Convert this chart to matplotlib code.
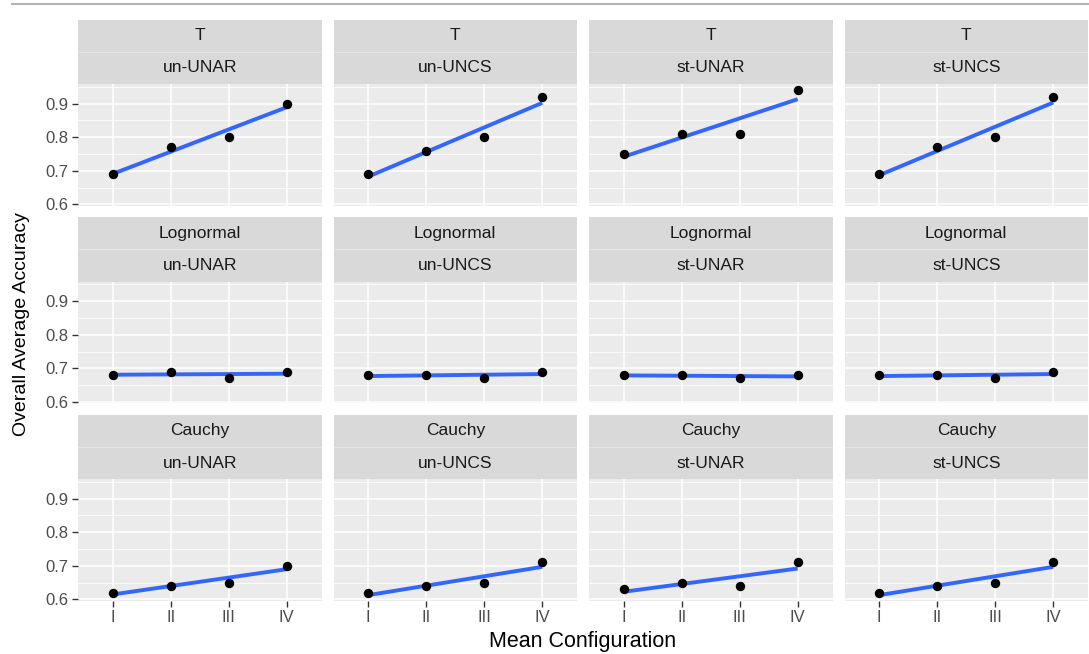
import numpy as np
import matplotlib
matplotlib.use("Agg")
import matplotlib.pyplot as plt
from matplotlib.ticker import MultipleLocator

plt.rcParams['font.family'] = ['Liberation Sans', 'DejaVu Sans']

# data
configs = ["I", "II", "III", "IV"]
distributions = ["T", "Lognormal", "Cauchy"]
methods = ["un-UNAR", "un-UNCS", "st-UNAR", "st-UNCS"]

t_un_unar = [0.69, 0.77, 0.80, 0.90]
t_un_uncs = [0.69, 0.76, 0.80, 0.92]
t_st_unar = [0.75, 0.81, 0.81, 0.94]
t_st_uncs = [0.69, 0.77, 0.80, 0.92]

logn_un_unar = [0.68, 0.69, 0.67, 0.69]
logn_un_uncs = [0.68, 0.68, 0.67, 0.69]
logn_st_unar = [0.68, 0.68, 0.67, 0.68]
logn_st_uncs = [0.68, 0.68, 0.67, 0.69]

cauchy_un_unar = [0.62, 0.64, 0.65, 0.70]
cauchy_un_uncs = [0.62, 0.64, 0.65, 0.71]
cauchy_st_unar = [0.63, 0.65, 0.64, 0.71]
cauchy_st_uncs = [0.62, 0.64, 0.65, 0.71]

values = [
    [t_un_unar, t_un_uncs, t_st_unar, t_st_uncs],
    [logn_un_unar, logn_un_uncs, logn_st_unar, logn_st_uncs],
    [cauchy_un_unar, cauchy_un_uncs, cauchy_st_unar, cauchy_st_uncs],
]

W, H = 1089, 654
fig = plt.figure(figsize=(W / 100, H / 100), dpi=100)

# thin grey rule along the top
fig.add_artist(plt.Line2D([12 / W, 1], [1 - 4 / H, 1 - 4 / H],
                          color="#b3b3b3", lw=1.5))

left0, pw, gap = 78, 243.5, 12
strip_h, plot_h, row_gap = 64, 121.5, 12
top0 = 20

x = np.arange(1, 5)

for r, dist in enumerate(distributions):
    st_top = top0 + r * (strip_h + plot_h + row_gap)
    p_top = st_top + strip_h
    for c, meth in enumerate(methods):
        lx = left0 + c * (pw + gap)

        # strip
        sax = fig.add_axes([lx / W, 1 - p_top / H, pw / W, strip_h / H])
        sax.set_facecolor("#d9d9d9")
        sax.set_xlim(0, 1)
        sax.set_ylim(0, 1)
        sax.axhline(0.5, color="#e4e4e4", lw=0.8)
        sax.text(0.5, 0.75, dist, ha="center", va="center",
                 fontsize=12.5, color="#1a1a1a")
        sax.text(0.5, 0.25, meth, ha="center", va="center",
                 fontsize=12.5, color="#1a1a1a")
        sax.set_xticks([])
        sax.set_yticks([])
        for s in sax.spines.values():
            s.set_visible(False)

        # panel
        ax = fig.add_axes([lx / W, 1 - (p_top + plot_h) / H, pw / W, plot_h / H])
        ax.set_facecolor("#ebebeb")
        ax.set_xlim(0.4, 4.6)
        ax.set_ylim(0.597, 0.958)
        ax.yaxis.set_major_locator(MultipleLocator(0.1))
        ax.yaxis.set_minor_locator(MultipleLocator(0.05))
        ax.set_xticks(x)
        ax.grid(True, which="major", color="white", lw=1.1)
        ax.grid(True, which="minor", axis="y", color="white", lw=0.55)
        ax.set_axisbelow(True)
        for s in ax.spines.values():
            s.set_visible(False)
        ax.tick_params(which="minor", length=0)
        ax.tick_params(which="major", length=4, width=1, color="#333333",
                       labelsize=12, labelcolor="#4d4d4d", pad=3)

        y = values[r][c]
        slope, icpt = np.polyfit(x, y, 1)
        ax.plot([1, 4], [icpt + slope * 1, icpt + slope * 4],
                color="#3366FF", lw=2.8, solid_capstyle="butt", zorder=3)
        ax.scatter(x, y, s=46, color="black", zorder=4, linewidths=0)

        if c == 0:
            ax.set_yticklabels([f"{v:.1f}" for v in ax.get_yticks()])
        else:
            ax.tick_params(axis="y", which="both", left=False, labelleft=False)
        if r == 2:
            ax.set_xticklabels(configs)
        else:
            ax.tick_params(axis="x", which="both", bottom=False, labelbottom=False)

fig.text(22 / W, 1 - 324 / H, "Overall Average Accuracy", rotation=90,
         ha="center", va="center", fontsize=14, color="black")
fig.text((left0 + 2 * pw + 1.5 * gap) / W, 1 - 642 / H, "Mean Configuration",
         ha="center", va="center", fontsize=15.5, color="black")

fig.savefig("out.png", dpi=100)
